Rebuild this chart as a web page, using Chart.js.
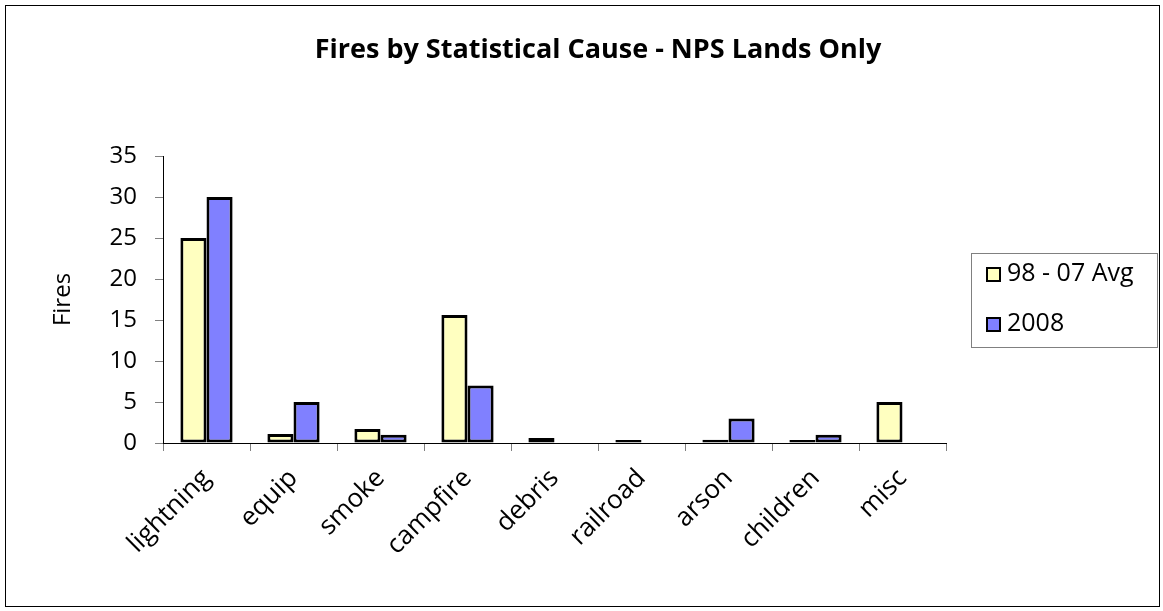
<!doctype html>
<html>
<head>
<meta charset="utf-8">
<script src="https://cdn.jsdelivr.net/npm/chart.js@4/dist/chart.umd.min.js"></script>
<style>
  html, body { margin: 0; padding: 0; background: #fff; }
  #wrap { width: 1163px; height: 611px; }
</style>
</head>
<body>
<div id="wrap"><canvas id="chart"></canvas></div>
<script>
const categories = ['lightning', 'equip', 'smoke', 'campfire', 'debris', 'railroad', 'arson', 'children', 'misc'];
const avgValues = [25, 1.1, 1.7, 15.6, 0.6, 0.1, 0.4, 0.1, 5];
const values2008 = [30, 5, 1, 7, null, null, 3, 1, null];
const seriesNames = ['98 - 07 Avg', '2008'];
const yTicks = [0, 5, 10, 15, 20, 25, 30, 35];

const FONT = "'Open Sans', 'Lato', sans-serif";
const colours = ['#FFFFC0', '#8080FF'];

// frame, title and boxed legend
const decor = {
    id: 'decor',
    beforeDraw(chart) {
        const c = chart.ctx;
        c.save();
        c.fillStyle = '#fff';
        c.fillRect(0, 0, chart.width, chart.height);
        c.strokeStyle = '#000';
        c.lineWidth = 1;
        c.strokeRect(5.5, 5.5, 1154, 601);
        c.restore();
    },
    afterDraw(chart) {
        const c = chart.ctx;
        c.save();
        c.fillStyle = '#000';
        c.font = 'bold 27px ' + FONT;
        c.textAlign = 'center';
        c.textBaseline = 'middle';
        c.fillText('Fires by Statistical Cause - NPS Lands Only', 598, 50);

        c.strokeStyle = '#808080';
        c.lineWidth = 1;
        c.strokeRect(971.5, 253.5, 186, 94);
        c.font = '25px ' + FONT;
        c.textAlign = 'left';
        seriesNames.forEach((name, i) => {
            const y = 274 + i * 50;
            c.fillStyle = colours[i];
            c.fillRect(987, y - 6, 13, 13);
            c.strokeStyle = '#000';
            c.lineWidth = 2;
            c.strokeRect(987, y - 6, 13, 13);
            c.fillStyle = '#000';
            c.fillText(name, 1007, y);
        });
        c.restore();
    }
};

new Chart(document.getElementById('chart').getContext('2d'), {
    type: 'bar',
    data: {
        labels: categories,
        datasets: [
            { label: seriesNames[0], data: avgValues, backgroundColor: colours[0] },
            { label: seriesNames[1], data: values2008, backgroundColor: colours[1] }
        ]
    },
    options: {
        responsive: true,
        maintainAspectRatio: false,
        animation: false,
        layout: { padding: { left: 49, right: 217, top: 156, bottom: 20 } },
        datasets: {
            bar: {
                borderColor: '#000',
                borderWidth: 3,
                borderSkipped: false,
                categoryPercentage: 0.6,
                barPercentage: 1,
                minBarLength: 3
            }
        },
        plugins: {
            legend: { display: false },
            title: { display: false },
            tooltip: { enabled: false }
        },
        scales: {
            x: {
                grid: { drawOnChartArea: false, tickLength: 8, color: '#808080' },
                border: { color: '#000', width: 1 },
                ticks: {
                    color: '#000',
                    font: { family: FONT, size: 26 },
                    maxRotation: 45,
                    minRotation: 45,
                    padding: 12
                },
                afterFit(scale) { scale.height = 611 - 443 - 20; }
            },
            y: {
                min: 0,
                max: 35,
                afterBuildTicks(scale) { scale.ticks = yTicks.map(v => ({ value: v })); },
                grid: { drawOnChartArea: false, tickLength: 8, color: '#808080' },
                border: { color: '#000', width: 1 },
                ticks: {
                    color: '#000',
                    font: { family: FONT, size: 24 },
                    padding: 18
                },
                title: {
                    display: true,
                    text: 'Fires',
                    color: '#000',
                    font: { family: FONT, size: 24 },
                    padding: 0
                },
                afterFit(scale) { scale.width = 163 - 49; }
            }
        }
    },
    plugins: [decor]
});
</script>
</body>
</html>
